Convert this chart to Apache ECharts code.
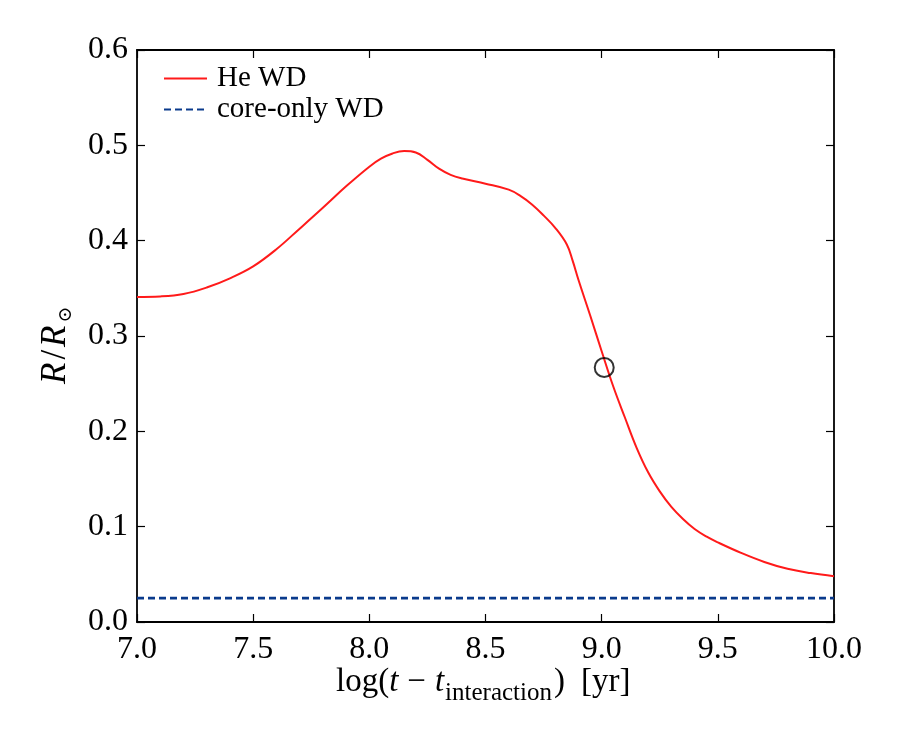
<!DOCTYPE html>
<html>
<head>
<meta charset="utf-8">
<script src="https://cdn.jsdelivr.net/npm/echarts@6/dist/echarts.min.js"></script>
<style>html,body{margin:0;padding:0;background:#fff;}#c{width:900px;height:750px;}</style>
</head>
<body>
<div id="c"></div>
<script>
// ---- data ----
var heX = [7.0, 7.1, 7.2, 7.3, 7.4, 7.5, 7.6, 7.7, 7.8, 7.9, 8.0, 8.05, 8.1, 8.15, 8.2, 8.25, 8.3, 8.35, 8.4, 8.5, 8.6, 8.65, 8.7, 8.75, 8.8, 8.85, 8.875, 8.9, 8.95, 9.0, 9.05, 9.1, 9.15, 9.2, 9.25, 9.3, 9.35, 9.4, 9.45, 9.5, 9.6, 9.7, 9.8, 9.9, 10.0];
var heY = [0.341, 0.3415, 0.344, 0.3508, 0.3605, 0.373, 0.391, 0.4126, 0.4345, 0.457, 0.4776, 0.486, 0.4915, 0.494, 0.4925, 0.4848, 0.4755, 0.469, 0.4652, 0.4598, 0.4535, 0.447, 0.438, 0.4265, 0.4135, 0.396, 0.379, 0.359, 0.322, 0.284, 0.247, 0.2145, 0.183, 0.157, 0.137, 0.1207, 0.108, 0.0975, 0.0897, 0.0835, 0.0725, 0.063, 0.0558, 0.0513, 0.048];
var coreX = [7.0, 10.0];
var coreY = [0.025, 0.025];
var markX = [9.011];
var markY = [0.267];
var seriesNames = ['He WD', 'core-only WD'];
var xTicks = [7.0, 7.5, 8.0, 8.5, 9.0, 9.5, 10.0];
var yTicks = [0.0, 0.1, 0.2, 0.3, 0.4, 0.5, 0.6];

function pairs(xs, ys) { return xs.map(function (x, i) { return [x, ys[i]]; }); }

var FONT = 'Liberation Serif';
var chart = echarts.init(document.getElementById('c'), null, {renderer: 'canvas'});
var tick = {show: true, inside: true, length: 8, lineStyle: {color: '#000', width: 1.2}};
var line = {show: true, onZero: false, lineStyle: {color: '#000', width: 1.8}};

chart.setOption({
  animation: false,
  backgroundColor: '#fff',
  grid: {left: 137, right: 66, top: 50, bottom: 128, containLabel: false},
  legend: {
    left: 158, top: 59, orient: 'vertical', itemWidth: 43, itemHeight: 14, itemGap: 2,
    data: seriesNames,
    itemStyle: {opacity: 0},
    textStyle: {fontFamily: FONT, fontSize: 29, color: '#000', lineHeight: 28, padding: [0, 0, 0, 5]}
  },
  xAxis: [
    {type: 'value', min: xTicks[0], max: xTicks[xTicks.length - 1], interval: 0.5, position: 'bottom',
     axisLine: line, axisTick: tick, splitLine: {show: false},
     axisLabel: {fontFamily: FONT, fontSize: 32, color: '#000', margin: 12, formatter: function (v) { return v.toFixed(1); }}},
    {type: 'value', min: xTicks[0], max: xTicks[xTicks.length - 1], interval: 0.5, position: 'top',
     axisLine: line, axisTick: tick, splitLine: {show: false}, axisLabel: {show: false}}
  ],
  yAxis: [
    {type: 'value', min: yTicks[0], max: yTicks[yTicks.length - 1], interval: 0.1, position: 'left',
     axisLine: line, axisTick: tick, splitLine: {show: false},
     axisLabel: {fontFamily: FONT, fontSize: 32, color: '#000', margin: 9, formatter: function (v) { return v.toFixed(1); }}},
    {type: 'value', min: yTicks[0], max: yTicks[yTicks.length - 1], interval: 0.1, position: 'right',
     axisLine: line, axisTick: tick, splitLine: {show: false}, axisLabel: {show: false}}
  ],
  series: [
    {name: seriesNames[0], type: 'line', data: pairs(heX, heY), smooth: 0.4, symbol: 'none', showSymbol: false,
     lineStyle: {color: '#ff1a1a', width: 2}, itemStyle: {color: '#ff1a1a'}, z: 3},
    {name: seriesNames[1], type: 'line', data: pairs(coreX, coreY), symbol: 'none', showSymbol: false,
     lineStyle: {color: '#0a3a8c', width: 2.6, type: [7, 4]}, itemStyle: {color: '#0a3a8c'}, z: 2},
    {name: 'marker', type: 'scatter', data: pairs(markX, markY), symbol: 'circle', symbolSize: 19,
     itemStyle: {color: 'rgba(0,0,0,0)', borderColor: '#000', borderWidth: 2}, z: 4}
  ],
  graphic: [
    {type: 'text', left: 336, top: 666, silent: true,
     style: {
       text: '{n|log(}{i|t}{m|−}{i|t}{s|interaction}{n|)}{g|[yr]}',
       rich: {
         n: {fontFamily: FONT, fontSize: 33, color: '#000', lineHeight: 36, verticalAlign: 'top'},
         m: {fontFamily: FONT, fontSize: 33, color: '#000', lineHeight: 36, verticalAlign: 'top', padding: [0, 9, 0, 9]},
         g: {fontFamily: FONT, fontSize: 33, color: '#000', lineHeight: 36, verticalAlign: 'top', padding: [0, 0, 0, 16]},
         i: {fontFamily: FONT, fontSize: 33, fontStyle: 'italic', color: '#000', lineHeight: 36, verticalAlign: 'top'},
         s: {fontFamily: FONT, fontSize: 25, color: '#000', lineHeight: 25, verticalAlign: 'top', padding: [15, 2, 0, 1]}
       }
     }},
    {type: 'text', x: 38, y: 384, rotation: Math.PI / 2, silent: true,
     style: {
       text: '{i|R}{n|/}{i|R}{s|⊙}',
       rich: {
         n: {fontFamily: FONT, fontSize: 35, color: '#000', lineHeight: 36, verticalAlign: 'top', padding: [0, 3, 0, 3]},
         i: {fontFamily: FONT, fontSize: 35, fontStyle: 'italic', color: '#000', lineHeight: 36, verticalAlign: 'top'},
         s: {fontFamily: 'DejaVu Serif', fontSize: 19, color: '#000', lineHeight: 19, verticalAlign: 'top', padding: [19, 0, 0, 3]}
       }
     }}
  ]
});
</script>
</body>
</html>
